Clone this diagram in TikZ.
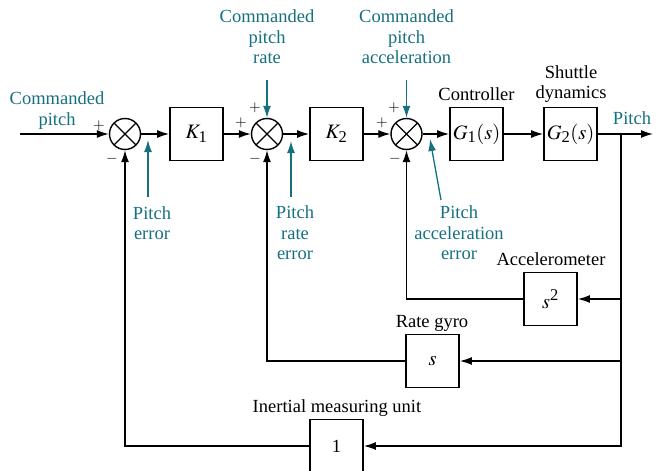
\documentclass[tikz,border=0pt]{standalone}
\usepackage{mathptmx}
\usepackage{fontspec}
\setmainfont{Liberation Serif}
\usetikzlibrary{arrows.meta}
\definecolor{tealc}{RGB}{22,112,128}
\newcommand\idxsz[1]{\mbox{\fontsize{16.5}{17}\selectfont #1}}
\begin{document}
\begin{tikzpicture}[x=1pt,y=-1pt,
  font=\fontsize{18.5}{20.5}\selectfont,
  blk/.style={draw,line width=1.8pt,minimum width=53pt,minimum height=53pt,inner sep=0pt,
    font=\fontsize{20.5}{21}\selectfont},
  sj/.style={draw,circle,line width=1.4pt,minimum size=31pt,inner sep=0pt,
    path picture={\draw[line width=1.2pt]
      (path picture bounding box.north west) -- (path picture bounding box.south east)
      (path picture bounding box.north east) -- (path picture bounding box.south west);}},
  wire/.style={line width=1.3pt},
  arr/.style={wire,-{Latex[length=12pt,width=8pt]}},
  tarr/.style={draw=tealc,line width=1.3pt,-{Latex[length=12pt,width=8pt]}},
  lbl/.style={align=center,inner sep=0pt},
  tlbl/.style={lbl,text=tealc},
  sgn/.style={inner sep=0pt,font=\fontsize{15}{15}\selectfont}
]
\useasboundingbox (0,0) rectangle (659,471);

% blocks
\node[sj] (s1) at (125,134) {};
\node[blk] (k1) at (196.5,134) {$K_{\idxsz{1}}$};
\node[sj] (s2) at (267,134) {};
\node[blk] (k2) at (336.5,134) {$K_{\idxsz{2}}$};
\node[sj] (s3) at (406.5,134) {};
\node[blk] (g1) at (476.5,134) {$G_{\idxsz{1}}(s)$};
\node[blk] (g2) at (570.5,134) {$G_{\idxsz{2}}(s)$};
\node[blk] (acc) at (550.5,299) {$s^{\idxsz{2}}$};
\node[blk] (gyro) at (432.5,361) {$s$};
\node[blk,font=\fontsize{18.5}{20}\selectfont] (imu) at (336.5,446) {1};

\coordinate (in) at (20,134);
\coordinate (br) at (621,134);
\coordinate (out) at (653,134);

% forward path
\draw[arr] (in) -- (s1);
\draw[arr] (s1) -- (k1);
\draw[arr] (k1) -- (s2);
\draw[arr] (s2) -- (k2);
\draw[arr] (k2) -- (s3);
\draw[arr] (s3) -- (g1);
\draw[arr] (g1) -- (g2);
\draw[arr] (g2) -- (out);

% feedback paths
\draw[arr] (br) |- (imu.east);
\draw[arr] (br) |- (acc.east);
\draw[arr] (br) |- (gyro.east);
\draw[arr] (acc.west) -| (s3.south);
\draw[arr] (gyro.west) -| (s2.south);
\draw[arr] (imu.west) -| (s1.south);

% signs
\node[sgn] (p1) at (99,126) {$+$};
\node[sgn] (m1) at (112,159) {$-$};
\node[sgn] (p2a) at (241,123) {$+$};
\node[sgn] (p2b) at (255,108) {$+$};
\node[sgn] (m2) at (255,159) {$-$};
\node[sgn] (p3a) at (382,123) {$+$};
\node[sgn] (p3b) at (394,108) {$+$};
\node[sgn] (m3) at (395,159) {$-$};

% teal labels
\node[tlbl] (cp) at (57,110.5) {Commanded\\pitch};
\node[tlbl] (cpr) at (267,37) {Commanded\\pitch\\rate};
\node[tlbl] (cpa) at (406.5,37) {Commanded\\pitch\\acceleration};
\node[tlbl] (pe) at (152,223) {Pitch\\error};
\node[tlbl] (pre) at (295,233) {Pitch\\rate\\error};
\node[tlbl] (pae) at (459,233) {Pitch\\acceleration\\error};
\node[lbl,text=tealc,anchor=base] (pout) at (632,124) {Pitch};

% teal arrows
\coordinate (t1) at (148,197); \coordinate (h1) at (148,140);
\coordinate (t2) at (291,197); \coordinate (h2) at (291,141);
\coordinate (t3) at (441,200); \coordinate (h3) at (430,139);
\coordinate (t4) at (267,80);
\coordinate (t5) at (406.5,80);
\draw[tarr] (t1) -- (h1);
\draw[tarr] (t2) -- (h2);
\draw[tarr] (t3) -- (h3);
\draw[tarr] (t4) -- (s2.north);
\draw[tarr] (t5) -- (s3.north);

% black labels
\node[lbl,anchor=base] (lc) at (476.5,100) {Controller};
\node[lbl] (ls) at (571,84) {Shuttle\\dynamics};
\node[lbl,anchor=base] (la) at (551,265) {Accelerometer};
\node[lbl,anchor=base] (lg) at (432,327) {Rate gyro};
\node[lbl,anchor=base] (li) at (337,412) {Inertial measuring unit};
\end{tikzpicture}
\end{document}
